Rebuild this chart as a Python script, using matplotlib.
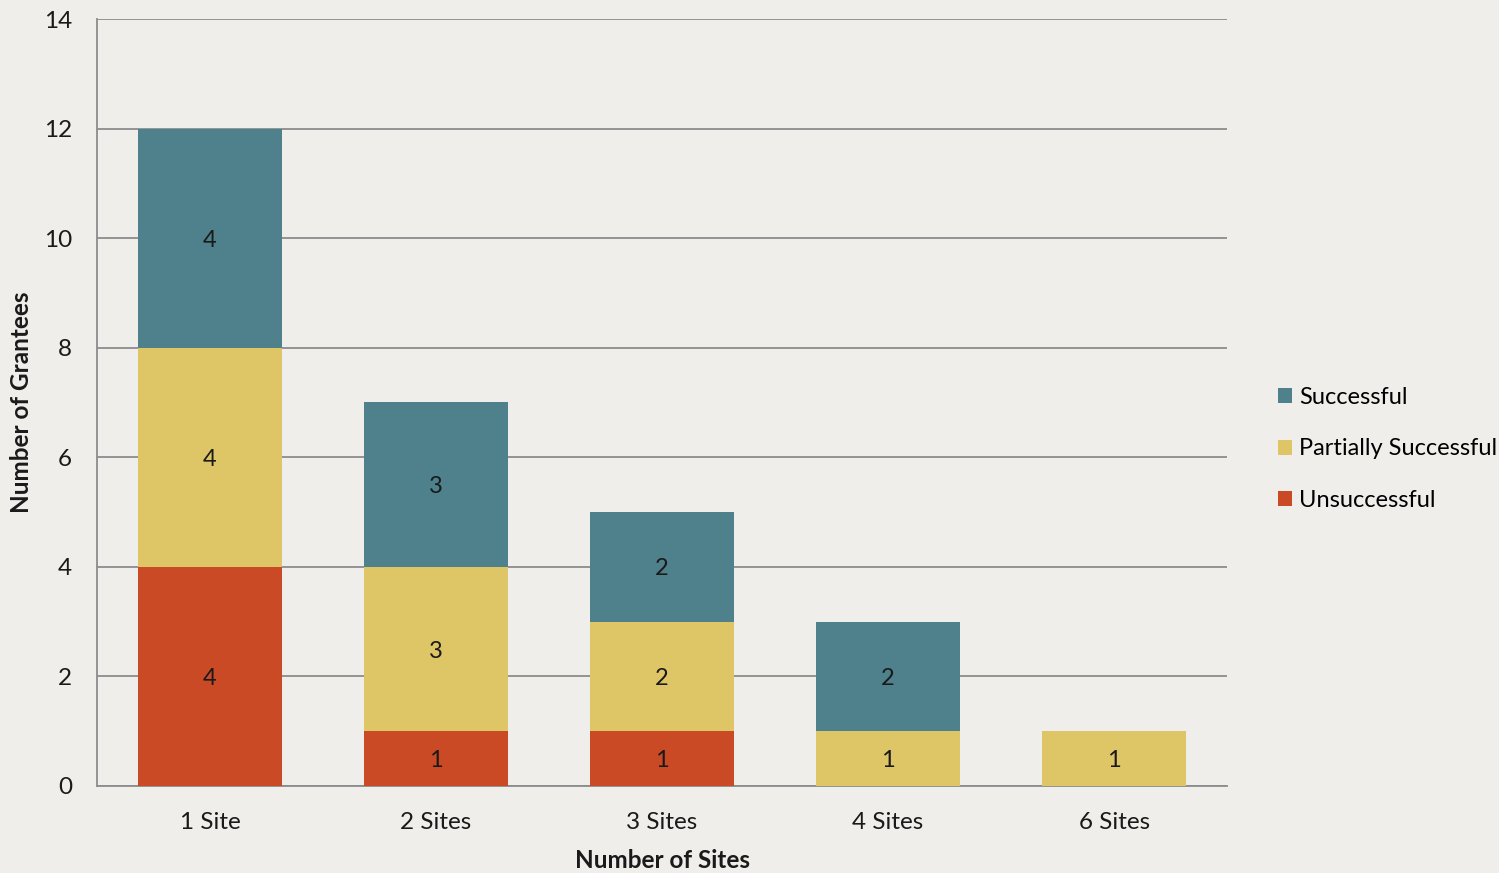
import numpy as np
import matplotlib.pyplot as plt

plt.rcParams['font.family'] = ['Lato', 'DejaVu Sans']

categories = ['1 Site', '2 Sites', '3 Sites', '4 Sites', '6 Sites']
unsuccessful = [4, 1, 1, 0, 0]
partial = [4, 3, 2, 1, 1]
successful = [4, 3, 2, 2, 0]

bg = '#efeeea'
colors = {'Successful': '#4e818b',
          'Partially Successful': '#dec666',
          'Unsuccessful': '#cb4a26'}

fig = plt.figure(figsize=(14.99, 8.73), dpi=100, facecolor=bg)
ax = fig.add_axes([0.0647, 0.0997, 0.7539, 0.8785], facecolor=bg)

x = np.arange(len(categories))
w = 0.64
bottom = np.zeros(len(categories))
handles = {}
for name, vals in [('Unsuccessful', unsuccessful),
                   ('Partially Successful', partial),
                   ('Successful', successful)]:
    vals = np.array(vals, dtype=float)
    bars = ax.bar(x, vals, w, bottom=bottom, color=colors[name], zorder=3,
                  label=name)
    handles[name] = bars
    for xi, b, v in zip(x, bottom, vals):
        if v > 0:
            ax.text(xi, b + v / 2, f'{int(v)}', ha='center',
                    va='center_baseline', fontsize=17, color='#1a1a1a',
                    zorder=4)
    bottom += vals

ax.set_xlim(-0.5, len(categories) - 0.5)
ax.set_ylim(0, 14)
ax.set_yticks(range(0, 15, 2))
ax.set_xticks(x)
ax.set_xticklabels(categories)
ax.tick_params(length=0, labelsize=17.5, colors='#1a1a1a')
ax.tick_params(axis='x', pad=19)
ax.tick_params(axis='y', pad=18)
ax.yaxis.grid(True, color='#8c8c8c', linewidth=1.3, zorder=1)
ax.set_axisbelow(True)
for s in ['top', 'right']:
    ax.spines[s].set_visible(False)
for s in ['left', 'bottom']:
    ax.spines[s].set_color('#8c8c8c')
    ax.spines[s].set_linewidth(1.3)

# axis titles placed in figure coordinates
fig.text(0.4417, 1 - 860 / 873, 'Number of Sites', ha='center', va='center',
         fontsize=17.5, fontweight='bold', color='#1a1a1a')
fig.text(22 / 1499, 1 - 402 / 873, 'Number of Grantees', ha='center',
         va='center', rotation=90, fontsize=17.5, fontweight='bold',
         color='#1a1a1a')

order = ['Successful', 'Partially Successful', 'Unsuccessful']
ax.legend([handles[k] for k in order], order, loc='center left',
          bbox_to_anchor=(1266 / 1499, 1 - 449 / 873),
          bbox_transform=fig.transFigure, frameon=False, fontsize=17,
          handlelength=0.6, handleheight=0.6, handletextpad=0.3,
          labelspacing=1.3, borderpad=0)

fig.savefig('out.png', dpi=100, facecolor=bg)
